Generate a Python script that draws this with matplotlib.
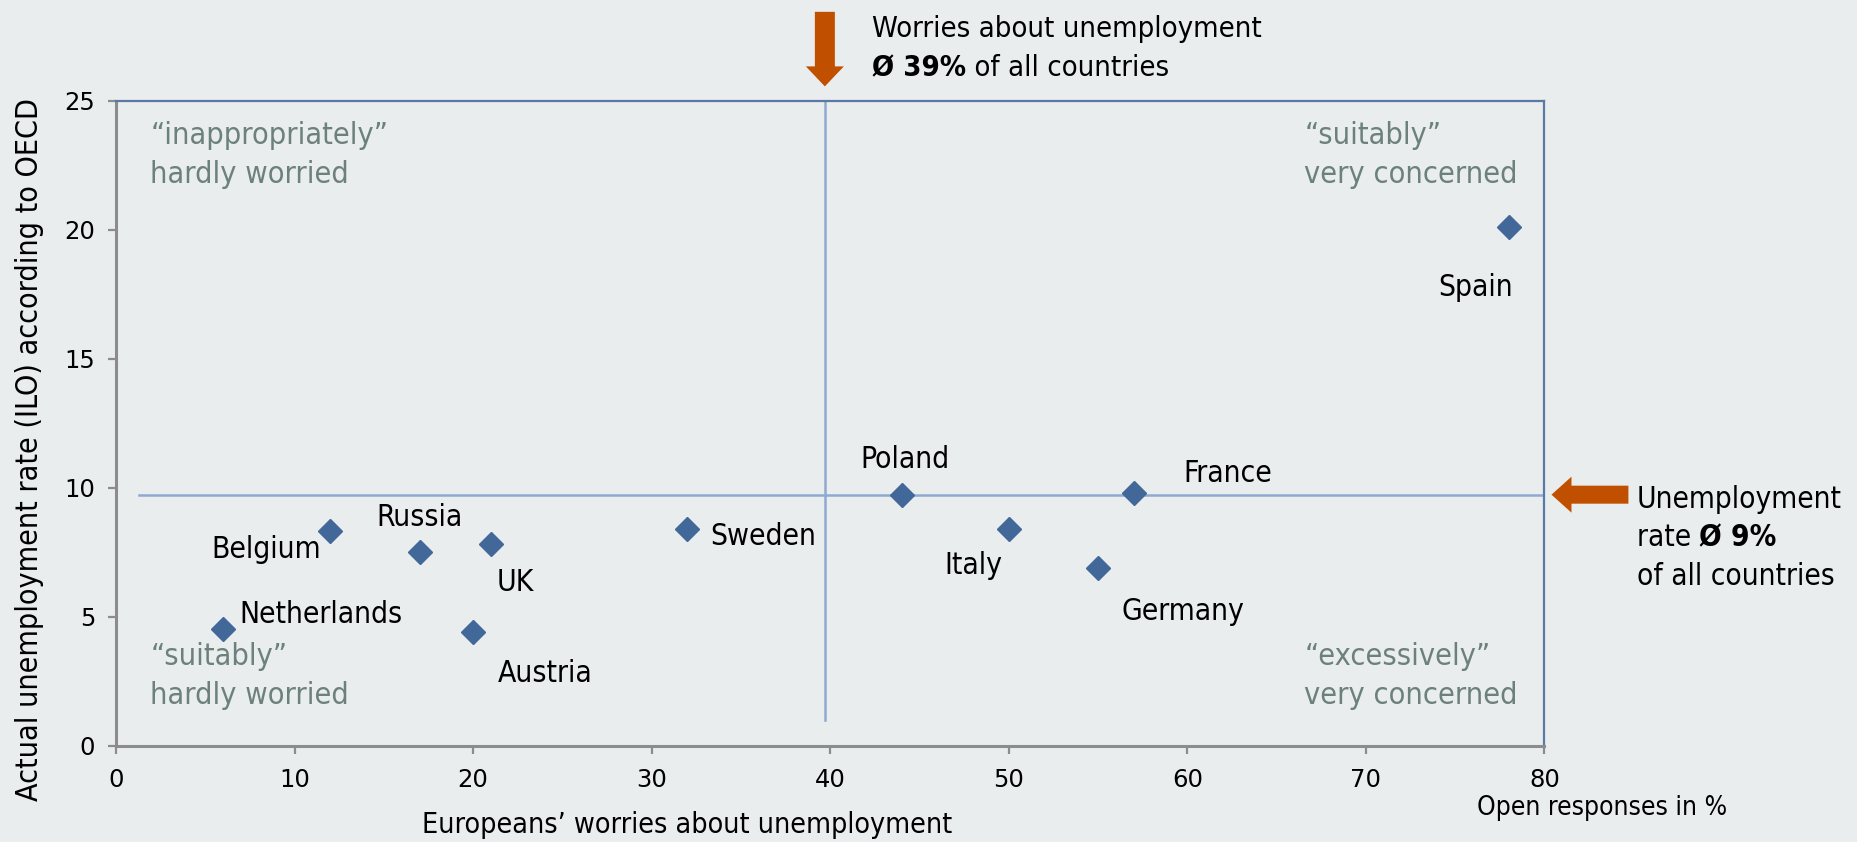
import matplotlib.pyplot as plt
from matplotlib import font_manager
from matplotlib.patches import FancyArrow

# data
countries = ['Netherlands', 'Belgium', 'Russia', 'UK', 'Austria', 'Sweden',
             'Poland', 'Italy', 'Germany', 'France', 'Spain']
worries = [6, 12, 17, 21, 20, 32, 44, 50, 55, 57, 78]
unemployment = [4.5, 8.3, 7.5, 7.8, 4.4, 8.4, 9.7, 8.4, 6.9, 9.8, 20.1]
avg_worries = 39.7
avg_unemployment = 9.7
x_ticks = [0, 10, 20, 30, 40, 50, 60, 70, 80]
y_ticks = [0, 5, 10, 15, 20, 25]

W, H = 1858, 842
S = 1858 / 1570  # my layout measures were taken on a 1570 px wide view


def fx(px):
    return px * S / W


def fy(py):
    return 1 - py * S / H


# label offsets, measured in the 1570 view: (dx, dy to cap centre, ha)
label_offsets = {
    'Netherlands': (14, 15, 'left'),
    'Belgium': (-8, -13, 'right'),
    'Russia': (0, 31, 'center'),
    'UK': (5, -30, 'left'),
    'Austria': (21, -33, 'left'),
    'Sweden': (19, -4, 'left'),
    'Poland': (3, 32, 'center'),
    'Italy': (-30, -29, 'center'),
    'Germany': (20, -35, 'left'),
    'France': (42, 18, 'left'),
    'Spain': (-28, -49, 'center'),
}

bg = '#e9edee'
marker_col = '#416898'
line_col = '#8eaad0'
frame_col = '#5a7aa5'
grey_txt = '#6d817c'
orange = '#c04f00'

# narrower face to get closer to the Tahoma look of the original
names = {f.name for f in font_manager.fontManager.ttflist}
txt_kw = {'family': 'DejaVu Sans'}
if 'DejaVu Sans Condensed' in names:
    txt_kw = {'family': 'DejaVu Sans Condensed'}
elif any(f.name == 'DejaVu Sans' and f.stretch == 'condensed'
         for f in font_manager.fontManager.ttflist):
    txt_kw = {'family': 'DejaVu Sans', 'fontstretch': 'condensed'}

plt.rcParams['font.family'] = ['DejaVu Sans']

fig = plt.figure(figsize=(W / 100, H / 100), dpi=100, facecolor=bg)
ax = fig.add_axes([fx(98), fy(630), fx(1305) - fx(98), fy(85) - fy(630)])
ax.set_facecolor(bg)

ax.set_xlim(0, 80)
ax.set_ylim(0, 25)

# reference lines for the averages
ax.plot([avg_worries, avg_worries], [1, 25], color=line_col, lw=1.8, zorder=1)
ax.plot([1.3, 80], [avg_unemployment, avg_unemployment], color=line_col, lw=1.8, zorder=1)

ax.plot(worries, unemployment, 'D', color=marker_col, ms=12, zorder=3)

cap = 11  # half cap height in px
for c, xv, yv in zip(countries, worries, unemployment):
    dx, dy, ha = label_offsets[c]
    ax.annotate(c, (xv, yv), xytext=(dx * S, dy * S - cap), textcoords='offset pixels',
                ha=ha, va='baseline', fontsize=21.5, color='black', **txt_kw)

ax.set_xticks(x_ticks)
ax.set_yticks(y_ticks)
ax.tick_params(axis='both', colors='#8c8c8c', labelcolor='black', labelsize=17.5,
               length=6, width=1.6, direction='out')
ax.tick_params(axis='x', pad=10)
ax.tick_params(axis='y', pad=9)
for s in ['left', 'bottom']:
    ax.spines[s].set_color('#8c8c8c')
    ax.spines[s].set_linewidth(2.2)
for s in ['top', 'right']:
    ax.spines[s].set_color(frame_col)
    ax.spines[s].set_linewidth(1.6)

# axis titles
fig.text(fx(25), fy(380), 'Actual unemployment rate (ILO) according to OECD',
         rotation=90, ha='center', va='center', fontsize=21.8, **txt_kw)
fig.text(fx(581), fy(697), 'Europeans\u2019 worries about unemployment',
         ha='center', va='center', fontsize=20.5, **txt_kw)
fig.text(fx(1248), fy(683), 'Open responses in %', ha='left', va='center',
         fontsize=19, **txt_kw)

# quadrant captions (left x, cap centre of first line)
quad = [
    (127, 112, '\u201cinappropriately\u201d', 'hardly worried'),
    (1102, 112, '\u201csuitably\u201d', 'very concerned'),
    (127, 553, '\u201csuitably\u201d', 'hardly worried'),
    (1102, 553, '\u201cexcessively\u201d', 'very concerned'),
]
for px, py, l1, l2 in quad:
    base = fy(py) - cap / H
    fig.text(fx(px), base, l1, ha='left', va='baseline', fontsize=22,
             color=grey_txt, **txt_kw)
    fig.text(fx(px), base - 33 * S / H, l2, ha='left', va='baseline', fontsize=22,
             color=grey_txt, **txt_kw)

# arrows pointing at the averages
fig.patches.append(FancyArrow(fx(697), fy(10), 0, fy(73) - fy(10), width=20 / W,
                              head_width=38 / W, head_length=20 / H,
                              length_includes_head=True, color=orange, lw=0,
                              transform=fig.transFigure, figure=fig))
fig.patches.append(FancyArrow(fx(1376), fy(418), fx(1311) - fx(1376), 0, width=18 / H,
                              head_width=36 / H, head_length=20 / W,
                              length_includes_head=True, color=orange, lw=0,
                              transform=fig.transFigure, figure=fig))

# top note
fig.text(fx(737), fy(22) - cap / H, 'Worries about unemployment', ha='left',
         va='baseline', fontsize=21, **txt_kw)
t1 = fig.text(fx(737), fy(55) - cap / H, '\u00d8 39%', ha='left', va='baseline',
              fontsize=21, weight='bold', **txt_kw)
ax.annotate(' of all countries', xy=(1, 0), xycoords=t1, ha='left', va='bottom',
            fontsize=21, annotation_clip=False, **txt_kw)

# right note
fig.text(fx(1383), fy(420) - cap / H, 'Unemployment', ha='left', va='baseline',
         fontsize=21.3, **txt_kw)
t2 = fig.text(fx(1383), fy(452) - cap / H, 'rate ', ha='left', va='baseline',
              fontsize=21.3, **txt_kw)
ax.annotate('\u00d8 9%', xy=(1, 0), xycoords=t2, ha='left', va='bottom',
            fontsize=21.3, weight='bold', annotation_clip=False, **txt_kw)
fig.text(fx(1383), fy(485) - cap / H, 'of all countries', ha='left', va='baseline',
         fontsize=21.3, **txt_kw)

fig.savefig('out.png', dpi=100, facecolor=bg)
